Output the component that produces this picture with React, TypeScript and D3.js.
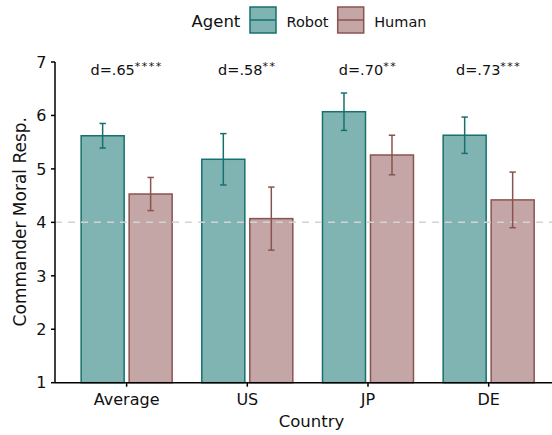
import * as d3 from "d3";

// values
const countries = ["Average", "US", "JP", "DE"];
const agents = ["Robot", "Human"];
const robotMeans = [5.62, 5.18, 6.07, 5.63];
const robotErr = [0.23, 0.48, 0.35, 0.34];
const humanMeans = [4.53, 4.07, 5.26, 4.42];
const humanErr = [0.31, 0.59, 0.37, 0.52];
const effectLabels = ["d=.65", "d=.58", "d=.70", "d=.73"];
const starLabels = ["****", "**", "**", "***"];
const yTicks = [1, 2, 3, 4, 5, 6, 7];
const refLine = 4;

const W = 552;
const H = 435;
const FONT = "'DejaVu Sans', sans-serif";

const fills: Record<string, string> = { Robot: "#80b4b3", Human: "#c4a6a6" };
const strokes: Record<string, string> = { Robot: "#17706e", Human: "#8a5350" };

export default function App() {
  const left = 55;
  const bottom = 382.7;
  const top = 62;

  const y = d3.scaleLinear().domain([1, 7]).range([bottom, top]);
  const x = d3.scaleBand().domain(countries).range([66.3, 549]).padding(0);
  const xInner = d3.scaleBand().domain(agents).range([-45.5, 45.5]).paddingInner(0.104);

  const rows = countries.map((c, i) => ({
    country: c,
    items: [
      { agent: "Robot", mean: robotMeans[i], err: robotErr[i] },
      { agent: "Human", mean: humanMeans[i], err: humanErr[i] },
    ],
  }));

  const cx = (c: string) => (x(c) ?? 0) + x.bandwidth() / 2;

  return (
    <svg
      width={W}
      height={H}
      style={{ position: "absolute", left: 0, top: 0, background: "#fff" }}
      fontFamily={FONT}
    >
      {/* bars */}
      {rows.map((r) =>
        r.items.map((d) => (
          <rect
            key={r.country + d.agent}
            x={cx(r.country) + (xInner(d.agent) ?? 0)}
            y={y(d.mean)}
            width={xInner.bandwidth()}
            height={bottom - y(d.mean)}
            fill={fills[d.agent]}
            stroke={strokes[d.agent]}
            strokeWidth={1.5}
          />
        ))
      )}

      {/* reference line */}
      <line
        x1={left}
        x2={W}
        y1={y(refLine)}
        y2={y(refLine)}
        stroke="#d3d3d3"
        strokeWidth={1.5}
        strokeDasharray="7,6"
      />

      {/* error bars */}
      {rows.map((r) =>
        r.items.map((d) => {
          const mx = cx(r.country) + (xInner(d.agent) ?? 0) + xInner.bandwidth() / 2;
          const y1 = y(d.mean + d.err);
          const y2 = y(d.mean - d.err);
          return (
            <g key={"e" + r.country + d.agent} stroke={strokes[d.agent]} strokeWidth={1.5}>
              <line x1={mx} x2={mx} y1={y1} y2={y2} />
              <line x1={mx - 3.2} x2={mx + 3.2} y1={y1} y2={y1} />
              <line x1={mx - 3.2} x2={mx + 3.2} y1={y2} y2={y2} />
            </g>
          );
        })
      )}

      {/* effect size labels */}
      {countries.map((c, i) => (
        <text key={"d" + c} x={cx(c)} y={75} textAnchor="middle" fontSize={14.5} fill="#111">
          {effectLabels[i]}
          <tspan fontSize={11} dy={-5} letterSpacing={1.5}>
            {starLabels[i]}
          </tspan>
        </text>
      ))}

      {/* axes */}
      <line x1={left} x2={left} y1={top} y2={bottom} stroke="#000" strokeWidth={1.5} />
      <line x1={left} x2={W} y1={bottom} y2={bottom} stroke="#000" strokeWidth={1.5} />
      {yTicks.map((t) => (
        <g key={"y" + t}>
          <line x1={left - 4} x2={left} y1={y(t)} y2={y(t)} stroke="#000" strokeWidth={1.5} />
          <text x={46.5} y={y(t)} dy="0.36em" textAnchor="end" fontSize={16} fill="#111">
            {t}
          </text>
        </g>
      ))}
      {countries.map((c) => (
        <g key={"x" + c}>
          <line x1={cx(c)} x2={cx(c)} y1={bottom} y2={bottom + 4} stroke="#000" strokeWidth={1.5} />
          <text x={cx(c)} y={405} textAnchor="middle" fontSize={16} fill="#111">
            {c}
          </text>
        </g>
      ))}
      <text x={(left + W) / 2 + 8} y={427} textAnchor="middle" fontSize={16.5} fill="#111">
        Country
      </text>
      <text
        transform={`translate(25.5, 221.7) rotate(-90)`}
        textAnchor="middle"
        fontSize={17}
        fill="#111"
      >
        Commander Moral Resp.
      </text>

      {/* legend */}
      <text x={191.5} y={27} fontSize={16.5} fill="#111">
        Agent
      </text>
      {agents.map((a, i) => {
        const kx = 250 + i * 87.7;
        return (
          <g key={"l" + a}>
            <rect x={kx} y={7} width={26} height={26} fill={fills[a]} stroke={strokes[a]} strokeWidth={1.5} />
            <line x1={kx} x2={kx + 26} y1={20} y2={20} stroke={strokes[a]} strokeWidth={1.5} />
            <text x={kx + 36.5} y={26.5} fontSize={14.5} fill="#111">
              {a}
            </text>
          </g>
        );
      })}
    </svg>
  );
}
